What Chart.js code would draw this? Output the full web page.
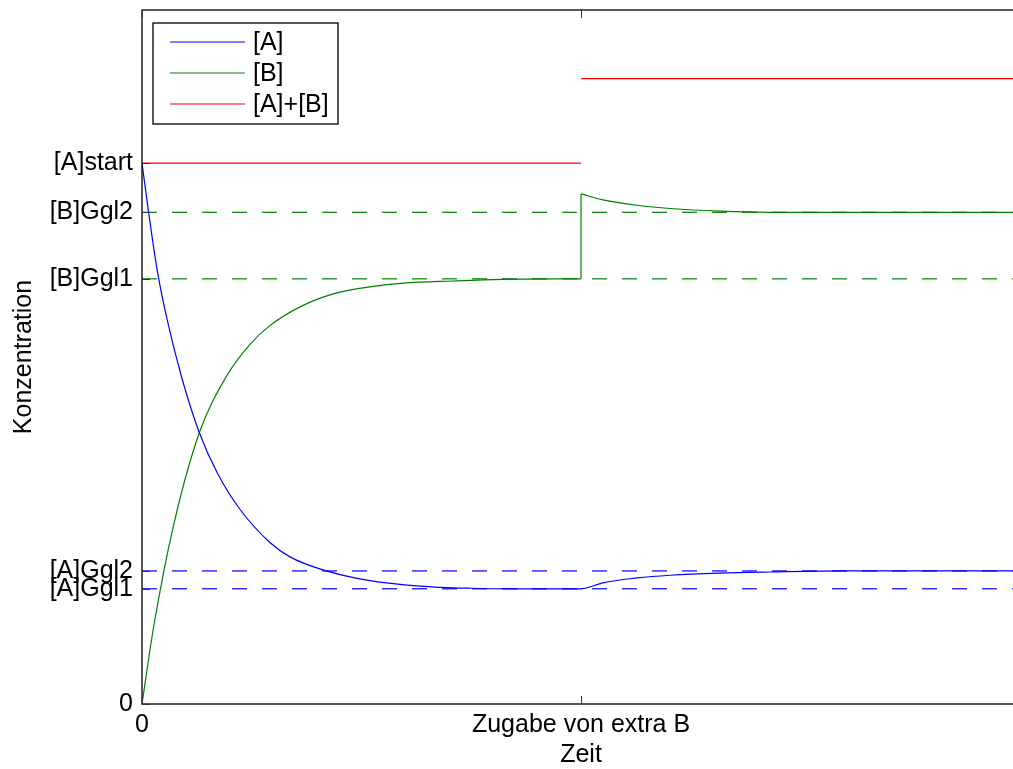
<!DOCTYPE html>
<html>
<head>
<meta charset="utf-8">
<script src="https://cdn.jsdelivr.net/npm/chart.js@4"></script>
<style>
  html, body { margin: 0; padding: 0; overflow: hidden; background: #fff; }
  #wrap { width: 1022px; height: 769px; }
</style>
</head>
<body>
<div id="wrap"><canvas id="myChart"></canvas></div>
<script>
// Series names (legend)
var seriesNames = ["[A]", "[B]", "[A]+[B]"];

// [A] before and after adding extra B (time, concentration)
var aTimeBefore = [0, 0.14, 0.34, 0.56, 0.9, 1.3, 1.71, 2.23, 2.92, 3.37, 4.12, 5.19, 6.33, 7.47, 8.5, 10];
var aValBefore  = [1.0, 0.915, 0.805, 0.715, 0.605, 0.503, 0.428, 0.36, 0.298, 0.272, 0.248, 0.228, 0.218, 0.214, 0.213, 0.213];
var aTimeAfter  = [10, 10.1, 10.5, 11.28, 12.03, 13.17, 14.3, 16, 20];
var aValAfter   = [0.213, 0.214, 0.224, 0.233, 0.238, 0.242, 0.244, 0.246, 0.246];

// [B] before and after
var bTimeBefore = [0, 0.26, 0.71, 1.3, 1.94, 2.46, 2.92, 3.67, 4.44, 5.19, 5.95, 7.08, 8.22, 10];
var bValBefore  = [0, 0.14, 0.327, 0.5, 0.608, 0.665, 0.7, 0.737, 0.76, 0.771, 0.778, 0.782, 0.785, 0.786];
var bJumpTime   = [10, 10];
var bJumpVal    = [0.786, 0.943];
var bTimeAfter  = [10, 10.5, 11.28, 12.03, 13.17, 14.3, 20];
var bValAfter   = [0.943, 0.932, 0.922, 0.916, 0.911, 0.909, 0.909];

// [A]+[B]
var sumTimeBefore = [0, 10];
var sumValBefore  = [1.0, 1.0];
var sumTimeAfter  = [10, 20];
var sumValAfter   = [1.156, 1.156];

// equilibrium levels (dashed)
var aGgl1 = 0.213, aGgl2 = 0.246, bGgl1 = 0.786, bGgl2 = 0.909;
var tStart = 0, tEnd = 20;

// axes
var xTickValues = [0, 10];
var xTickLabels = ["0", "Zugabe von extra B"];
var yTickValues = [0, 0.213, 0.246, 0.786, 0.909, 1.0];
var yTickLabels = ["0", "[A]Ggl1", "[A]Ggl2", "[B]Ggl1", "[B]Ggl2", "[A]start"];
var yMax = 1.283;

function pts(xs, ys) {
  return xs.map(function (x, i) { return { x: x, y: ys[i] }; });
}

var BLUE = "#0000ff", GREEN = "#008000", RED = "#ff0000";
var FONT = "'Liberation Sans', Arial, Helvetica, sans-serif";

function curve(label, data, color, smooth) {
  return {
    label: label, data: data, borderColor: color, backgroundColor: color,
    borderWidth: 1.2, pointRadius: 0, fill: false,
    cubicInterpolationMode: smooth ? "monotone" : "default", tension: 0
  };
}
function dashed(value, color) {
  return {
    label: "_ggl", data: pts([tStart, tEnd], [value, value]), borderColor: color,
    borderWidth: 1.2, borderDash: [15, 15], pointRadius: 0, fill: false, tension: 0
  };
}

// draws the box, inward ticks, and the boxed legend
var matlabAxes = {
  id: "matlabAxes",
  afterDraw: function (chart) {
    var ctx = chart.ctx, a = chart.chartArea;
    var xs = chart.scales.x, ys = chart.scales.y;
    var tl = 8;
    ctx.save();
    ctx.strokeStyle = "#000";
    ctx.lineWidth = 1.3;
    ctx.strokeRect(a.left, a.top, a.right - a.left, a.bottom - a.top);
    ctx.lineWidth = 1;
    ctx.strokeStyle = "#333";
    ctx.beginPath();
    xTickValues.forEach(function (v) {
      var px = Math.round(xs.getPixelForValue(v)) + 0.5;
      ctx.moveTo(px, a.bottom); ctx.lineTo(px, a.bottom - tl);
      ctx.moveTo(px, a.top); ctx.lineTo(px, a.top + tl);
    });
    yTickValues.forEach(function (v) {
      var py = Math.round(ys.getPixelForValue(v)) + 0.5;
      ctx.moveTo(a.left, py); ctx.lineTo(a.left + tl, py);
    });
    ctx.stroke();

    // legend box
    var items = chart.data.datasets.filter(function (d) { return d.label && d.label.charAt(0) !== "_"; });
    var x0 = a.left + 11, y0 = a.top + 13, w = 185, h = 101;
    ctx.fillStyle = "#fff";
    ctx.fillRect(x0, y0, w, h);
    ctx.strokeStyle = "#000";
    ctx.lineWidth = 1.3;
    ctx.strokeRect(x0, y0, w, h);
    ctx.font = "25px " + FONT;
    ctx.textBaseline = "middle";
    ctx.textAlign = "left";
    items.forEach(function (d, i) {
      var y = y0 + 19 + i * 31;
      ctx.strokeStyle = d.borderColor;
      ctx.lineWidth = 1.2;
      ctx.beginPath();
      ctx.moveTo(x0 + 17, y); ctx.lineTo(x0 + 92, y);
      ctx.stroke();
      ctx.fillStyle = "#000";
      ctx.fillText(d.label, x0 + 100, y + 1);
    });
    ctx.restore();
  }
};

function noPad(scale) {
  scale.paddingTop = 0; scale.paddingBottom = 0;
  scale.paddingLeft = 0; scale.paddingRight = 0;
}

var ctx = document.getElementById("myChart");
var myChart = new Chart(ctx, {
  type: "line",
  data: {
    datasets: [
      curve(seriesNames[0], pts(aTimeBefore, aValBefore), BLUE, true),
      curve(seriesNames[1], pts(bTimeBefore, bValBefore), GREEN, true),
      curve(seriesNames[2], pts(sumTimeBefore, sumValBefore), RED, false),
      curve("_a2", pts(aTimeAfter, aValAfter), BLUE, true),
      curve("_bjump", pts(bJumpTime, bJumpVal), GREEN, false),
      curve("_b2", pts(bTimeAfter, bValAfter), GREEN, true),
      curve("_sum2", pts(sumTimeAfter, sumValAfter), RED, false),
      dashed(bGgl2, GREEN),
      dashed(bGgl1, GREEN),
      dashed(aGgl2, BLUE),
      dashed(aGgl1, BLUE)
    ]
  },
  options: {
    responsive: true,
    maintainAspectRatio: false,
    animation: false,
    layout: { padding: { top: 10, right: 2, left: 0, bottom: 0 } },
    plugins: {
      legend: { display: false },
      tooltip: { enabled: false }
    },
    scales: {
      x: {
        type: "linear",
        min: tStart, max: tEnd,
        grid: { display: false, drawTicks: false, tickLength: 0 },
        border: { display: false },
        afterBuildTicks: function (scale) {
          scale.ticks = xTickValues.map(function (v) { return { value: v }; });
        },
        afterFit: function (scale) { scale.height = 65; noPad(scale); },
        ticks: {
          autoSkip: false, maxRotation: 0, padding: 6, color: "#000",
          font: { family: FONT, size: 25, lineHeight: 1.2 },
          callback: function (value, index) { return xTickLabels[index]; }
        },
        title: {
          display: true, text: "Zeit", color: "#000",
          font: { family: FONT, size: 25, lineHeight: 1.1 },
          padding: { top: 0, bottom: 0 }
        }
      },
      y: {
        type: "linear",
        min: 0, max: yMax,
        grid: { display: false, drawTicks: false, tickLength: 0 },
        border: { display: false },
        afterBuildTicks: function (scale) {
          scale.ticks = yTickValues.map(function (v) { return { value: v }; });
        },
        afterFit: function (scale) { scale.width = 142; noPad(scale); },
        ticks: {
          autoSkip: false, padding: 9, color: "#000",
          font: { family: FONT, size: 25, lineHeight: 1.2 },
          callback: function (value, index) { return yTickLabels[index]; }
        },
        title: {
          display: true, text: "Konzentration", color: "#000",
          font: { family: FONT, size: 25, lineHeight: 1.1 },
          padding: { top: 10, bottom: 0 }
        }
      }
    }
  },
  plugins: [matlabAxes]
});
</script>
</body>
</html>
